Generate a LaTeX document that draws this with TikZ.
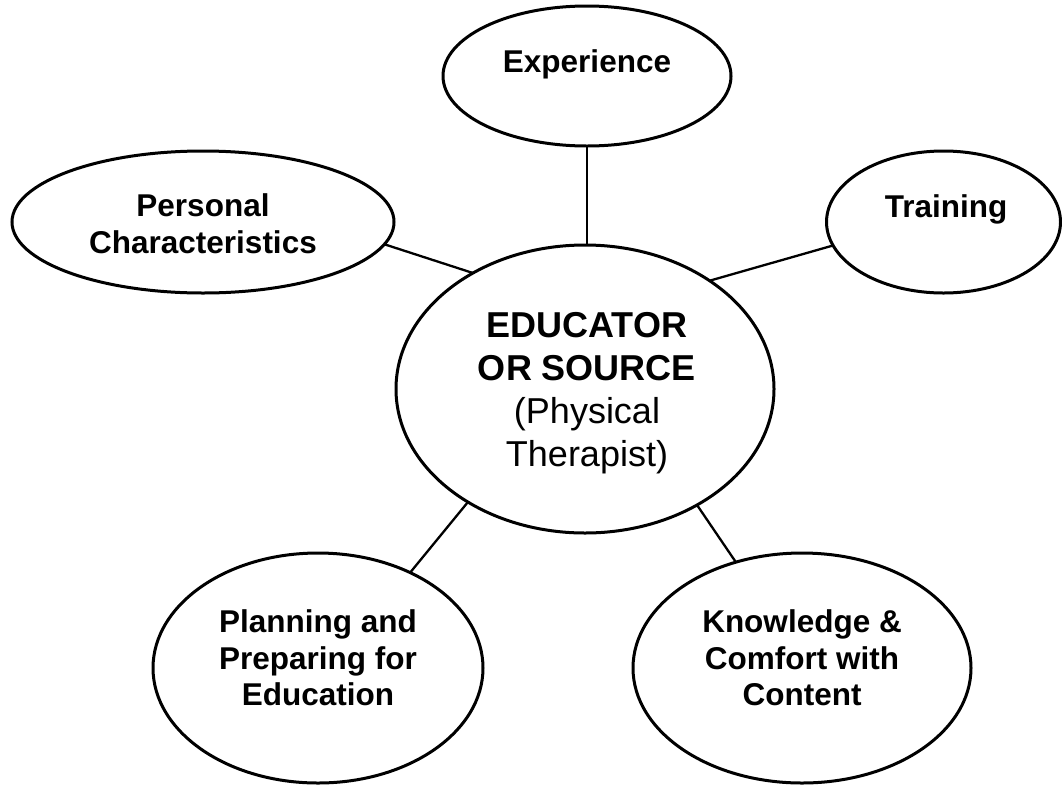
\documentclass[tikz,border=0pt]{standalone}
\usepackage{fontspec}
\setmainfont{Liberation Sans}
\usetikzlibrary{shapes.geometric}
\begin{document}
\begin{tikzpicture}[x=1pt,y=-1pt,
  bubble/.style={draw,ellipse,line width=3pt,inner sep=0pt,outer sep=0pt},
  lab/.style={font=\bfseries\fontsize{31.5}{36.5}\selectfont,align=center,inner sep=0pt},
  mainlab/.style={font=\fontsize{36}{43}\selectfont,align=center,inner sep=0pt},
  link/.style={line width=2.3pt}]
\useasboundingbox (0,0) rectangle (1062,785);
\fill[white] (0,0) rectangle (1062,785);
% bubbles
\node[bubble,minimum width=288pt,minimum height=140pt] (exp) at (587,76) {};
\node[bubble,minimum width=382pt,minimum height=142pt] (pers) at (203,222) {};
\node[bubble,minimum width=234pt,minimum height=142pt] (train) at (943.5,222) {};
\node[bubble,minimum width=378pt,minimum height=288pt] (edu) at (585,389) {};
\node[bubble,minimum width=330pt,minimum height=230pt] (plan) at (318,668) {};
\node[bubble,minimum width=338pt,minimum height=230pt] (know) at (802,668) {};
% labels
\node[lab] (expt) at (587,64) {Experience};
\node[lab] (perst) at (203,223.5) {Personal\\Characteristics};
\node[lab] (traint) at (946,209) {Training};
\node[mainlab] (edut) at (587,393) {\textbf{EDUCATOR}\\\textbf{OR SOURCE}\\(Physical\\Therapist)};
\node[lab] (plant) at (318,658) {Planning and\\Preparing for\\Education};
\node[lab] (knowt) at (802,658) {Knowledge \&\\Comfort with\\Content};
% connectors
\draw[link] (exp.south) -- (exp.south |- edu.north);
\draw[link] (pers.-7) -- (edu.134);
\draw[link] (train.192) -- (edu.41);
\draw[link] (edu.-136) -- (plan.46);
\draw[link] (edu.-46) -- (know.122);
\end{tikzpicture}
\end{document}
